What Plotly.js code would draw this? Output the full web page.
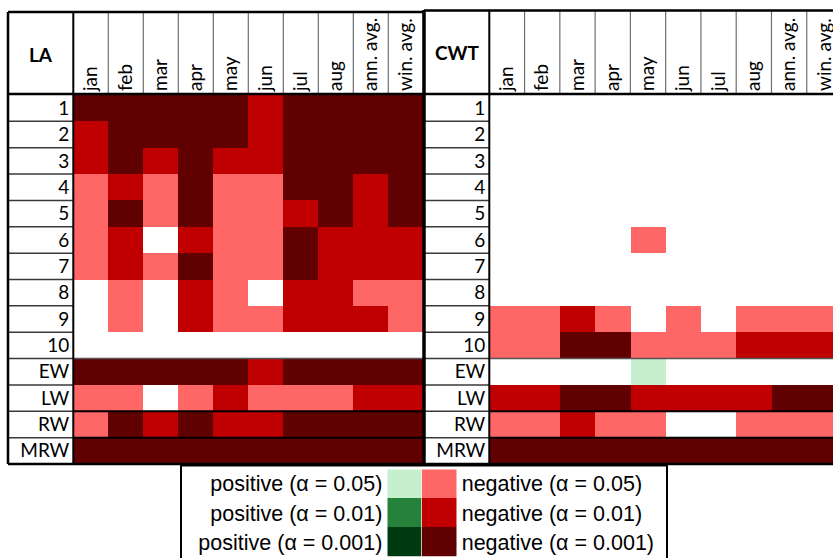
<!DOCTYPE html>
<html>
<head>
<meta charset="utf-8">
<script src="https://cdn.plot.ly/plotly-3.0.1.min.js"></script>
<style>html,body{margin:0;padding:0;background:#fff;}#chart{width:833px;height:558px;}</style>
</head>
<body>
<div id="chart"></div>
<script>
// ---- data ----
const columns = ['jan','feb','mar','apr','may','jun','jul','aug','ann. avg.','win. avg.'];
const rowLabels = ['1','2','3','4','5','6','7','8','9','10','EW','LW','RW','MRW'];
// codes: -3 negative (α=0.001), -2 negative (α=0.01), -1 negative (α=0.05), 0 n.s., 1/2/3 positive
const laValues = [
  [-3,-3,-3,-3,-3,-2,-3,-3,-3,-3],
  [-2,-3,-3,-3,-3,-2,-3,-3,-3,-3],
  [-2,-3,-2,-3,-2,-2,-3,-3,-3,-3],
  [-1,-2,-1,-3,-1,-1,-3,-3,-2,-3],
  [-1,-3,-1,-3,-1,-1,-2,-3,-2,-3],
  [-1,-2, 0,-2,-1,-1,-3,-2,-2,-2],
  [-1,-2,-1,-3,-1,-1,-3,-2,-2,-2],
  [ 0,-1, 0,-2,-1, 0,-2,-2,-1,-1],
  [ 0,-1, 0,-2,-1,-1,-2,-2,-2,-1],
  [ 0, 0, 0, 0, 0, 0, 0, 0, 0, 0],
  [-3,-3,-3,-3,-3,-2,-3,-3,-3,-3],
  [-1,-1, 0,-1,-2,-1,-1,-1,-2,-2],
  [-1,-3,-2,-3,-2,-2,-3,-3,-3,-3],
  [-3,-3,-3,-3,-3,-3,-3,-3,-3,-3]
];
const cwtValues = [
  [ 0, 0, 0, 0, 0, 0, 0, 0, 0, 0],
  [ 0, 0, 0, 0, 0, 0, 0, 0, 0, 0],
  [ 0, 0, 0, 0, 0, 0, 0, 0, 0, 0],
  [ 0, 0, 0, 0, 0, 0, 0, 0, 0, 0],
  [ 0, 0, 0, 0, 0, 0, 0, 0, 0, 0],
  [ 0, 0, 0, 0,-1, 0, 0, 0, 0, 0],
  [ 0, 0, 0, 0, 0, 0, 0, 0, 0, 0],
  [ 0, 0, 0, 0, 0, 0, 0, 0, 0, 0],
  [-1,-1,-2,-1, 0,-1, 0,-1,-1,-1],
  [-1,-1,-3,-3,-1,-1,-1,-2,-2,-2],
  [ 0, 0, 0, 0, 1, 0, 0, 0, 0, 0],
  [-2,-2,-3,-3,-2,-2,-2,-2,-3,-3],
  [-1,-1,-2,-1,-1, 0, 0,-1,-1,-1],
  [-3,-3,-3,-3,-3,-3,-3,-3,-3,-3]
];
const legendPosLabels = ['positive (α = 0.05)','positive (α = 0.01)','positive (α = 0.001)'];
const legendPosValues = [1, 2, 3];
const legendNegLabels = ['negative (α = 0.05)','negative (α = 0.01)','negative (α = 0.001)'];
const legendNegValues = [-1, -2, -3];
const panelTitles = ['LA', 'CWT'];

// ---- styling ----
const W = 833, H = 558;
const levelColors = ['#600000','#C00000','#FF6666','#FFFFFF','#C6EFCE','#24823A','#003A10'];
const colorscale = [];
levelColors.forEach((c, i) => { colorscale.push([i/7, c]); colorscale.push([(i+1)/7, c]); });

const px = x => x / W;
const py = y => 1 - y / H;

const hdrFont = {family: 'Lato, "Open Sans", sans-serif', size: 19, color: '#000'};
const rowFont = {family: 'Lato, "Open Sans", sans-serif', size: 19, color: '#000'};
const legFont = {family: '"Liberation Sans", Arial, sans-serif', size: 21.5, color: '#000'};

const tableTop = 95, tableBot = 464, rowH = (tableBot - tableTop) / 14;
const la = {left: 8, lab: 73.3, colW: 35, top: 12};
const cw = {left: 424, lab: 489.3, colW: 35.27, top: 10.5};

function hm(z, xa, ya) {
  return {type: 'heatmap', z: z, x: columns, y: rowLabels, xaxis: xa, yaxis: ya,
    colorscale: colorscale, zmin: -3.5, zmax: 3.5, showscale: false, hoverinfo: 'skip', xgap: 0, ygap: 0};
}
function legendTrace(z, labels, xa, ya) {
  return {type: 'heatmap', z: z.map(v => [v]), x: ['k'], y: labels, xaxis: xa, yaxis: ya,
    colorscale: colorscale, zmin: -3.5, zmax: 3.5, showscale: false, hoverinfo: 'skip'};
}

const traces = [
  hm(laValues, 'x', 'y'),
  hm(cwtValues, 'x2', 'y2'),
  legendTrace(legendPosValues, legendPosLabels, 'x3', 'y3'),
  legendTrace(legendNegValues, legendNegLabels, 'x4', 'y4')
];

const yDom = [py(tableBot), py(tableTop)];
const xCommon = {type: 'category', side: 'top', tickangle: -90, ticks: '', showgrid: false, zeroline: false,
  showline: false, tickfont: hdrFont, ticklabelstandoff: 3, fixedrange: true};
const yCommon = {type: 'category', ticks: '', showgrid: false, zeroline: false, showline: false,
  tickfont: rowFont, ticklabelstandoff: 3, range: [13.5, -0.5], fixedrange: true};

const cwtRight = (W - cw.lab) / cw.colW - 0.5;

const shapes = [];
function line(x0, y0, x1, y1, color, width) {
  shapes.push({type: 'line', xref: 'paper', yref: 'paper', x0: px(x0), y0: py(y0), x1: px(x1), y1: py(y1),
    line: {color: color, width: width}});
}
function panel(p, right) {
  for (let k = 1; k <= 10; k++) {
    const x = p.lab + p.colW * k;
    if (x < W) line(x, p.top, x, 94, '#6f6f6f', 1.2);
  }
  for (let k = 1; k < 14; k++) {
    const y = tableTop + rowH * k;
    line(p.left, y, p.lab, y, '#3a3a3a', 1.5);
  }
  line(p.lab, tableTop + rowH * 10, right, tableTop + rowH * 10, '#555', 1.5);
  line(p.lab, tableTop + rowH * 12, right, tableTop + rowH * 12, '#000', 2);
  line(p.lab, tableTop + rowH * 13, right, tableTop + rowH * 13, '#000', 2);
  line(p.left, p.top, right, p.top, '#000', 2.5);
  line(p.left, 94, right, 94, '#000', 2.5);
  line(p.lab, p.top, p.lab, tableBot, '#000', 2);
  line(p.left, tableBot, right, tableBot, '#000', 2.5);
}
panel(la, 424);
panel(cw, W + 2);
line(8, 12, 8, tableBot, '#000', 2.5);
line(424, 10, 424, tableBot, '#000', 3.5);
shapes.push({type: 'rect', xref: 'paper', yref: 'paper', x0: px(181), x1: px(667), y0: py(575), y1: py(465.5),
  line: {color: '#000', width: 2}, fillcolor: 'rgba(0,0,0,0)'});

const layout = {
  width: W, height: H, margin: {l: 0, r: 0, t: 0, b: 0},
  paper_bgcolor: '#fff', plot_bgcolor: '#fff', showlegend: false,
  xaxis: Object.assign({}, xCommon, {domain: [px(la.lab), px(la.lab + la.colW * 10)], anchor: 'y', range: [-0.5, 9.5]}),
  yaxis: Object.assign({}, yCommon, {domain: yDom, anchor: 'x'}),
  xaxis2: Object.assign({}, xCommon, {domain: [px(cw.lab), 1], anchor: 'y2', range: [-0.5, cwtRight]}),
  yaxis2: Object.assign({}, yCommon, {domain: yDom, anchor: 'x2'}),
  xaxis3: {domain: [px(387.3), px(421.7)], anchor: 'y3', showticklabels: false, ticks: '', showgrid: false, zeroline: false, fixedrange: true},
  yaxis3: {domain: [py(556.7), py(469.3)], anchor: 'x3', type: 'category', range: [2.5, -0.5], ticks: '', showgrid: false, zeroline: false,
    tickfont: legFont, ticklabelstandoff: 4, fixedrange: true},
  xaxis4: {domain: [px(421.7), px(456.7)], anchor: 'y4', showticklabels: false, ticks: '', showgrid: false, zeroline: false, fixedrange: true},
  yaxis4: {domain: [py(556.7), py(469.3)], anchor: 'x4', side: 'right', type: 'category', range: [2.5, -0.5], ticks: '', showgrid: false, zeroline: false,
    tickfont: legFont, ticklabelstandoff: 4, fixedrange: true},
  shapes: shapes,
  annotations: [
    {text: '<b>' + panelTitles[0] + '</b>', xref: 'paper', yref: 'paper', x: px(40.5), y: py(55), showarrow: false,
      xanchor: 'center', yanchor: 'middle', font: {family: 'Lato, sans-serif', size: 19, color: '#000'}},
    {text: '<b>' + panelTitles[1] + '</b>', xref: 'paper', yref: 'paper', x: px(457), y: py(53), showarrow: false,
      xanchor: 'center', yanchor: 'middle', font: {family: 'Lato, sans-serif', size: 19, color: '#000'}}
  ]
};

Plotly.newPlot('chart', traces, layout, {staticPlot: true, displayModeBar: false});
</script>
</body>
</html>
